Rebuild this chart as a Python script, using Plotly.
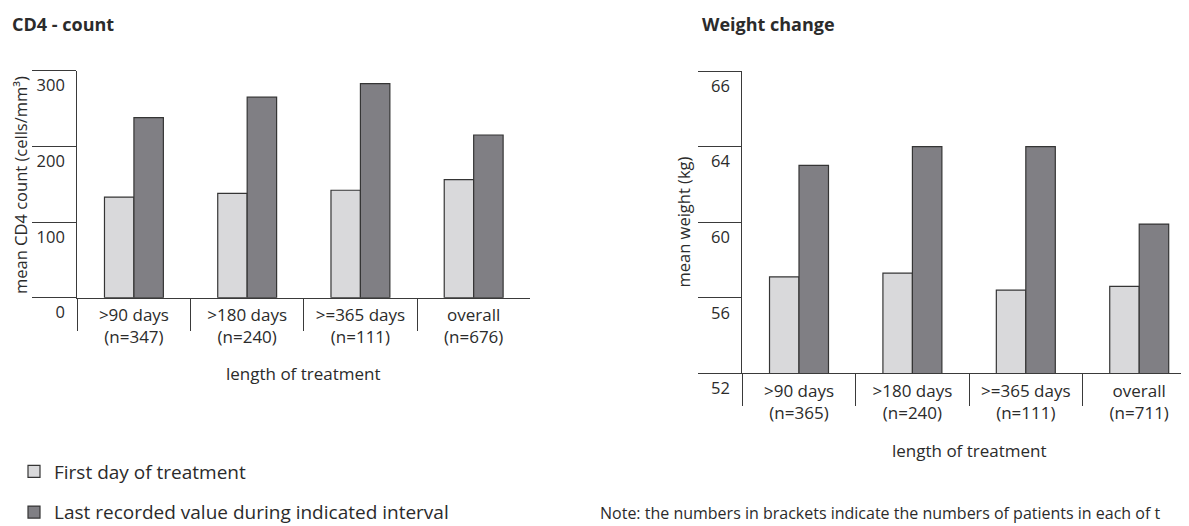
import plotly.graph_objects as go

# The page body keeps its default 8px margin, so the figure is sized to fill
# the remaining window and positions below are given in window pixels.
OFF = 8
WIN_W, WIN_H = 1189, 526
W, H = WIN_W - OFF, WIN_H - OFF

# ---- data ----
cd4_categories = [">90 days<br>(n=347)", ">180 days<br>(n=240)", ">=365 days<br>(n=111)", "overall<br>(n=676)"]
cd4_first = [133, 138, 142, 156]
cd4_last = [238, 265, 283, 215]
cd4_tickvals = [0, 100, 200, 300]
cd4_ticktext = ["0", "100", "200", "300"]

wt_categories = [">90 days<br>(n=365)", ">180 days<br>(n=240)", ">=365 days<br>(n=111)", "overall<br>(n=711)"]
wt_first = [57.1, 57.3, 56.4, 56.6]
wt_last = [63.0, 64.0, 64.0, 59.9]
wt_tickvals = [52, 56, 60, 64, 68]
wt_ticktext = ["52", "56", "60", "64", "66"]

series_names = ["First day of treatment", "Last recorded value during indicated interval"]

# ---- style ----
FONT = "Open Sans"
TXT = "#2b2b2b"
LINE = "#3a3a3a"
LIGHT = "#d9d9db"
DARK = "#807f84"
EDGE = "#353535"

def px_x(p):
    return (p - OFF) / W

def px_y(p):
    return (H - (p - OFF)) / H

fig = go.Figure()

fig.add_trace(go.Bar(x=cd4_categories, y=cd4_first, name=series_names[0], legendgroup="a",
                     marker=dict(color=LIGHT, line=dict(color=EDGE, width=1.2)), xaxis="x", yaxis="y"))
fig.add_trace(go.Bar(x=cd4_categories, y=cd4_last, name=series_names[1], legendgroup="b",
                     marker=dict(color=DARK, line=dict(color=EDGE, width=1.2)), xaxis="x", yaxis="y"))
fig.add_trace(go.Bar(x=wt_categories, y=wt_first, name=series_names[0], legendgroup="a", showlegend=False,
                     marker=dict(color=LIGHT, line=dict(color=EDGE, width=1.2)), xaxis="x2", yaxis="y2"))
fig.add_trace(go.Bar(x=wt_categories, y=wt_last, name=series_names[1], legendgroup="b", showlegend=False,
                     marker=dict(color=DARK, line=dict(color=EDGE, width=1.2)), xaxis="x2", yaxis="y2"))

xaxis_common = dict(type="category", showline=True, linecolor=LINE, linewidth=1.3,
                    ticks="outside", tickson="boundaries", ticklen=32, tickcolor=LINE, tickwidth=1.3,
                    showgrid=False, zeroline=False, ticklabelstandoff=2, automargin=False,
                    tickfont=dict(family=FONT, size=17, color=TXT))
yaxis_common = dict(showline=True, linecolor=LINE, linewidth=1.3, ticks="outside", tickcolor=LINE,
                    tickwidth=1.3, showgrid=False, zeroline=False, ticklabelshift=15, automargin=False,
                    tickfont=dict(family=FONT, size=16.5, color=TXT))

fig.update_layout(
    template="none",
    width=W, height=H, margin=dict(l=0, r=0, t=0, b=0, autoexpand=False),
    paper_bgcolor="white", plot_bgcolor="white",
    barmode="group", bargap=0.48, bargroupgap=0,
    font=dict(family=FONT, color=TXT),
    xaxis=dict(domain=[px_x(77.3), px_x(530.3)], range=[-0.5, 3.5], anchor="y", **xaxis_common),
    yaxis=dict(domain=[px_y(297.7), px_y(70.7)], range=[0, 300], anchor="x",
               tickvals=cd4_tickvals, ticktext=cd4_ticktext, ticklen=44, ticklabelstandoff=-36,
               **yaxis_common),
    xaxis2=dict(domain=[px_x(742.3), 1.0], range=[-0.5, 3.439], anchor="y2", **xaxis_common),
    yaxis2=dict(domain=[px_y(373.3), px_y(71)], range=[52, 68], anchor="x2",
                tickvals=wt_tickvals, ticktext=wt_ticktext, ticklen=43, ticklabelstandoff=-35,
                **yaxis_common),
    showlegend=True,
    legend=dict(x=px_x(14), xanchor="left", y=px_y(452.5), yanchor="top", orientation="v",
                tracegroupgap=13, font=dict(family=FONT, size=19, color=TXT), bgcolor="rgba(0,0,0,0)"),
)

annotations = [
    dict(text="<b>CD4 - count</b>", x=px_x(10), y=px_y(24), xanchor="left", yanchor="middle",
         font=dict(family=FONT, size=18, color=TXT)),
    dict(text="<b>Weight change</b>", x=px_x(700), y=px_y(24), xanchor="left", yanchor="middle",
         font=dict(family=FONT, size=18, color=TXT)),
    dict(text="mean CD4 count (cells/mm³)", x=px_x(20), y=px_y(185), textangle=-90,
         xanchor="center", yanchor="middle", font=dict(family=FONT, size=16.5, color=TXT)),
    dict(text="mean weight (kg)", x=px_x(683), y=px_y(222.5), textangle=-90,
         xanchor="center", yanchor="middle", font=dict(family=FONT, size=16.5, color=TXT)),
    dict(text="length of treatment", x=px_x(303.8), y=px_y(373.3), xanchor="center", yanchor="middle",
         font=dict(family=FONT, size=17, color=TXT)),
    dict(text="length of treatment", x=px_x(969), y=px_y(450), xanchor="center", yanchor="middle",
         font=dict(family=FONT, size=17, color=TXT)),
    dict(text="Note: the numbers in brackets indicate the numbers of patients in each of t",
         x=px_x(597.7), y=px_y(513), xanchor="left", yanchor="middle",
         font=dict(family=FONT, size=16, color=TXT)),
]
for a in annotations:
    a.update(xref="paper", yref="paper", showarrow=False)
fig.update_layout(annotations=annotations)

fig.write_html("out.html")
